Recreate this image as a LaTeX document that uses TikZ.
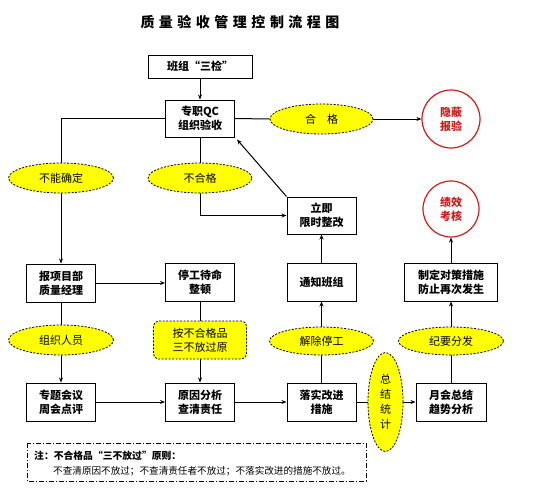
\documentclass[tikz,border=0pt]{standalone}
\usepackage{fontspec}
\setmainfont{Noto Sans CJK SC}
\usetikzlibrary{shapes.geometric,arrows.meta,calc}
\definecolor{yel}{RGB}{255,255,0}
\definecolor{redc}{RGB}{200,30,30}
\tikzset{
  box/.style={draw,line width=1pt,fill=white,inner sep=0pt,align=center,font=\bfseries\fontsize{11}{14}\selectfont},
  oval/.style={ellipse,draw,dashed,dash pattern=on 2pt off 1.5pt,line width=0.8pt,fill=yel,inner sep=0pt,align=center,font=\fontsize{11}{14}\selectfont},
  rbox/.style={rectangle,rounded corners=5pt,draw,dashed,dash pattern=on 2pt off 1.5pt,line width=0.8pt,fill=yel,inner sep=0pt,align=center,font=\fontsize{11}{14}\selectfont},
  rcirc/.style={circle,draw=redc,line width=1.2pt,fill=white,inner sep=0pt,align=center,text=redc,font=\bfseries\fontsize{11}{14}\selectfont},
  conn/.style={line width=1pt},
  arr/.style={line width=1pt,-{Stealth[length=5pt,width=4pt]}}
}
\begin{document}
\begin{tikzpicture}[x=1pt,y=-1pt]
\useasboundingbox[fill=white] (0,0) rectangle (560,491);
\node (title) at (240,22) {\bfseries\fontsize{14}{16}\selectfont 质\hspace{4.5pt}量\hspace{4.5pt}验\hspace{4.5pt}收\hspace{4.5pt}管\hspace{4.5pt}理\hspace{4.5pt}控\hspace{4.5pt}制\hspace{4.5pt}流\hspace{4.5pt}程\hspace{4.5pt}图};
\node[box,minimum width=104pt,minimum height=23pt] (banzu) at (200,66.5) {班组“三检”};
\node[box,minimum width=69pt,minimum height=37pt] (qc) at (200,118.5) {专职QC\\组织验收};
\node[oval,minimum width=103pt,minimum height=30pt] (hege) at (321.5,119) {合\hspace{1em}格};
\node[rcirc,minimum size=58pt] (yinbi) at (451,119) {隐蔽\\报验};
\node[oval,minimum width=105pt,minimum height=30pt] (buneng) at (61,178) {不能确定};
\node[oval,minimum width=104pt,minimum height=30pt] (buhege) at (200,178) {不合格};
\node[box,minimum width=69pt,minimum height=37pt] (liji) at (321.5,215.5) {立即\\限时整改};
\node[rcirc,minimum size=56pt] (jixiao) at (451,209) {绩效\\考核};
\node[box,minimum width=69pt,minimum height=38pt] (baoxiang) at (61,283) {报项目部\\质量经理};
\node[box,minimum width=69pt,minimum height=38pt] (tinggong) at (200,282) {停工待命\\整顿};
\node[box,minimum width=69pt,minimum height=38pt] (tongzhi) at (321.5,282) {通知班组};
\node[box,minimum width=93pt,minimum height=38pt] (zhiding) at (451,282) {制定对策措施\\防止再次发生};
\node[oval,minimum width=105pt,minimum height=30pt] (zuzhi) at (61,340) {组织人员};
\node[rbox,minimum width=93pt,minimum height=38pt] (an) at (200,340) {按不合格品\\三不放过原};
\node[oval,minimum width=104pt,minimum height=28pt] (jiechu) at (321.5,341) {解除停工};
\node[oval,minimum width=105pt,minimum height=28pt] (jiyao) at (451,341) {纪要分发};
\node[box,minimum width=69pt,minimum height=38pt] (zhuanti) at (61,402) {专题会议\\周会点评};
\node[box,minimum width=69pt,minimum height=38pt] (yuanyin) at (200,402) {原因分析\\查清责任};
\node[box,minimum width=69pt,minimum height=38pt] (luoshi) at (321.5,402) {落实改进\\措施};
\node[box,minimum width=70pt,minimum height=38pt] (yuehui) at (451,402) {月会总结\\趋势分析};
\node[oval,minimum width=35pt,minimum height=99pt,font=\fontsize{11}{15}\selectfont] (zongjie) at (385.5,402) {总\\结\\统\\计};
% note
\draw[line width=0.8pt,dash pattern=on 5pt off 2pt on 1pt off 2pt] (27,443) rectangle (366,481);
\node[anchor=west,inner sep=0pt,font=\bfseries\fontsize{9.8}{11}\selectfont] (note1) at (34,456) {注：不合格品“三不放过”原则：};
\node[anchor=west,inner sep=0pt,font=\fontsize{9.6}{11}\selectfont] (note2) at (53,471) {不查清原因不放过；不查清责任者不放过；不落实改进的措施不放过。};
% connectors
\draw[arr] (banzu) -- (qc);
\draw[conn] (qc.west) -| (buneng.north);
\draw[arr] (buneng.south) -- (baoxiang.north);
\draw[conn] (qc.south) -- (buhege.north);
\draw[arr] (buhege.south) |- (liji.west);
\draw[arr] (liji.north west) -- ([shift={(2pt,-2pt)}]qc.south east);
\draw[conn] (qc.east) -- (hege.west);
\draw[arr] (hege.east) -- (yinbi.west);
\draw[arr] (baoxiang.east) -- (tinggong.west |- baoxiang.east);
\draw[conn] (baoxiang.south) -- (zuzhi.north);
\draw[arr] (zuzhi.south) -- (zhuanti.north);
\draw[conn] (tinggong.south) -- (an.north);
\draw[arr] (an.south) -- (yuanyin.north);
\draw[arr] (zhuanti.east) -- (yuanyin.west);
\draw[arr] (yuanyin.east) -- (luoshi.west);
\draw[conn] (luoshi.north) -- (jiechu.south);
\draw[arr] (jiechu.north) -- (tongzhi.south);
\draw[arr] (tongzhi.north) -- (liji.south);
\draw[conn] (luoshi.east) -- (zongjie.west);
\draw[arr] (zongjie.east) -- (yuehui.west);
\draw[conn] (yuehui.north) -- (jiyao.south);
\draw[arr] (jiyao.north) -- (zhiding.south);
\draw[arr] (zhiding.north) -- (jixiao.south);
\end{tikzpicture}
\end{document}
